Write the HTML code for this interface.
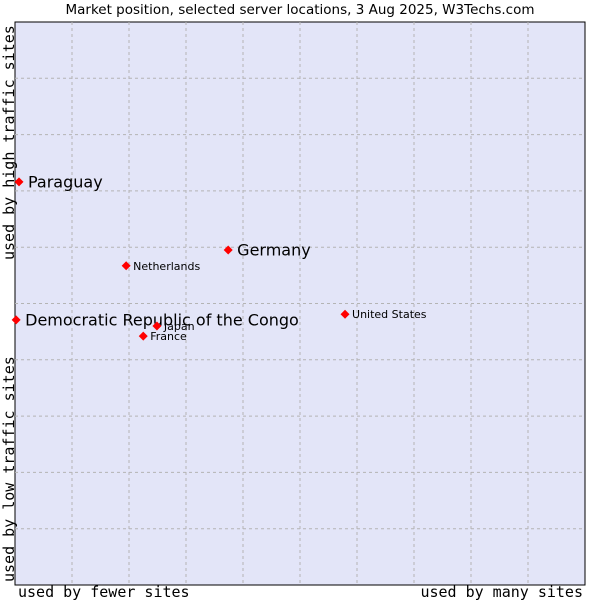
<!DOCTYPE html>
<html><head><meta charset="utf-8"><style>
body{margin:0;background:#fff;}
svg text{font-family:"DejaVu Sans","Liberation Sans",sans-serif;fill:#000;}
.mono{font-family:"DejaVu Sans Mono","Liberation Mono",monospace !important;font-size:15px;}
</style></head><body>
<svg id="chart" width="600" height="600" viewBox="0 0 600 600">
<text x="300" y="14" text-anchor="middle" font-size="13.5">Market position, selected server locations, 3 Aug 2025, W3Techs.com</text>
<rect x="15" y="22" width="570" height="563" fill="#e3e5f8" stroke="#000" stroke-width="1"/>
<g id="grid"></g>
<g id="points"></g>
<text class="mono" x="18" y="597">used by fewer sites</text>
<text class="mono" x="583" y="597" text-anchor="end">used by many sites</text>
<text class="mono" transform="translate(14,260) rotate(-90)">used by high traffic sites</text>
<text class="mono" transform="translate(14,582) rotate(-90)">used by low traffic sites</text>
</svg>
<script>
const names=["Paraguay","Germany","Netherlands","Democratic Republic of the Congo","United States","Japan","France"];
const xVals=[0.7,37.4,19.5,0.2,57.9,24.9,22.5];
const yVals=[71.6,59.5,56.7,47.1,48.1,46.0,44.2];
const bigLabel=[true,true,false,true,false,false,false];
const NS="http://www.w3.org/2000/svg";
const L=15,T=22,W=570,H=563;
const xs=v=>L+v/100*W, ys=v=>T+H-v/100*H;
const grid=document.getElementById('grid');
for(let i=1;i<10;i++){
  const a=document.createElementNS(NS,'line');
  
  
  a.setAttribute('x1',xs(i*10));a.setAttribute('x2',xs(i*10));a.setAttribute('y1',T);a.setAttribute('y2',T+H);
  a.setAttribute('stroke','#b4b4b4');a.setAttribute('stroke-dasharray','3,3');grid.appendChild(a);
  const b=document.createElementNS(NS,'line');
  
  
  b.setAttribute('y1',ys(i*10));b.setAttribute('y2',ys(i*10));b.setAttribute('x1',L);b.setAttribute('x2',L+W);
  b.setAttribute('stroke','#b4b4b4');b.setAttribute('stroke-dasharray','3,3');grid.appendChild(b);
}
const pts=document.getElementById('points');
names.forEach((n,i)=>{
  const x=xs(xVals[i]),y=ys(yVals[i]);
  const d=document.createElementNS(NS,'path');
  
  
  d.setAttribute('d',`M${x},${y-4.5}L${x+4.5},${y}L${x},${y+4.5}L${x-4.5},${y}Z`);
  d.setAttribute('fill','#f00');pts.appendChild(d);
  const t=document.createElementNS(NS,'text');
  
  
  t.setAttribute('x',x+(bigLabel[i]?9:7));t.setAttribute('y',y+(bigLabel[i]?5.5:4));
  t.setAttribute('font-size',bigLabel[i]?16:11);t.textContent=n;pts.appendChild(t);
});
</script>
</body></html>
